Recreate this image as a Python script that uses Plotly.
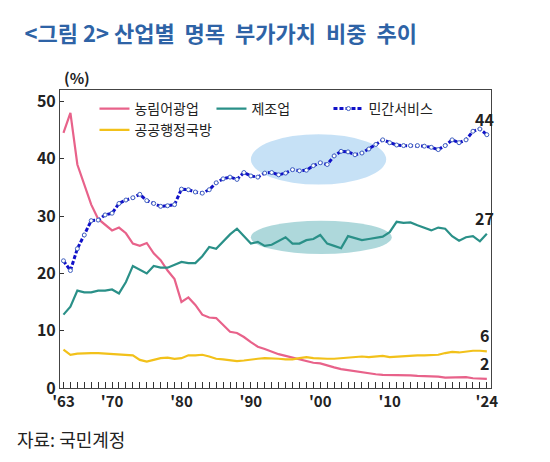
import plotly.graph_objects as go

years = list(range(1963, 2025))

agri = [44.5, 48, 39, 35.5, 32, 29.5, 28.5, 27.5, 28, 27, 25.2, 24.8, 25.3, 23.5, 22.3, 20.5,
        19, 15, 15.8, 14.5, 12.8, 12.3, 12.2, 11, 9.8, 9.6, 8.9, 8, 7.2, 6.8, 6.3, 5.9,
        5.6, 5.3, 5, 4.6, 4.4, 4.3, 3.9, 3.6, 3.3, 3.1, 3, 2.8, 2.6, 2.4, 2.3, 2.3,
        2.3, 2.2, 2.2, 2.1, 2.1, 2.0, 2.0, 1.8, 1.8, 1.9, 1.9, 1.7, 1.6, 1.6]
manuf = [12.8, 14.2, 17, 16.7, 16.7, 17, 17, 17.2, 16.5, 18.5, 21.3, 20.6, 20, 21.3, 21, 21,
         21.5, 22, 21.8, 21.8, 23, 24.6, 24.3, 25.5, 26.8, 27.8, 26.5, 25.2, 25.5, 24.8, 25, 25.7,
         26.3, 25.2, 25.2, 25.8, 26, 26.7, 25.2, 24.8, 24.4, 26.5, 26.2, 25.8, 26, 26.2, 26.4, 27.2,
         29, 28.8, 28.9, 28.4, 27.9, 27.5, 28, 27.8, 26.5, 25.7, 26.3, 26.5, 25.6, 26.9]
services = [22.2, 20.5, 24.3, 26.7, 29.2, 29.3, 30.2, 30.5, 32.2, 32.8, 33.2, 33.8, 32.7, 32.2, 31.7, 31.8,
            32, 34.7, 34.6, 34.2, 34, 34.6, 35.8, 36.5, 36.8, 36.4, 37.6, 37, 36.8, 37.5, 37.6, 37.2,
            37.5, 38.1, 37.9, 38, 38.8, 39.3, 39, 40.5, 41.3, 41.2, 40.7, 41, 41.7, 42.5, 43.3, 42.8,
            42.4, 42.3, 42.3, 42.3, 42.2, 42.0, 41.6, 42.3, 43.3, 42.8, 43.3, 44.8, 45.2, 44.2]
public = [6.7, 5.8, 6.0, 6.1, 6.1, 6.1, 6.0, 5.9, 5.9, 5.8, 5.7, 4.9, 4.6, 4.9, 5.2, 5.3,
          5.1, 5.2, 5.7, 5.7, 5.8, 5.5, 5.1, 5.0, 4.8, 4.7, 4.8, 5.0, 5.1, 5.2, 5.2, 5.1,
          5.0, 5.0, 5.2, 5.4, 5.2, 5.1, 5.1, 5.1, 5.2, 5.3, 5.3, 5.5, 5.4, 5.5, 5.6, 5.4,
          5.5, 5.6, 5.7, 5.7, 5.7, 5.7, 5.8, 6.1, 6.3, 6.2, 6.4, 6.5, 6.5, 6.4]

label_years = {1963: "'63", 1970: "'70", 1980: "'80", 1990: "'90", 2000: "'00", 2010: "'10", 2024: "'24"}
tick_text = ["<b>%s</b>" % label_years[y] if y in label_years else "" for y in years]
y_ticks = [0, 10, 20, 30, 40, 50]

fig = go.Figure()

# highlight ellipses behind the lines
fig.add_shape(type="circle", xref="x", yref="y", x0=1990, x1=2009.5, y0=35.5, y1=44.3,
              fillcolor="rgba(160,205,240,0.6)", line_width=0, layer="below")
fig.add_shape(type="circle", xref="x", yref="y", x0=1990, x1=2010.3, y0=23.4, y1=29.2,
              fillcolor="rgba(120,190,195,0.6)", line_width=0, layer="below")

fig.add_trace(go.Scatter(x=years, y=agri, mode="lines", name="농림어광업",
                         line=dict(color="#E8628A", width=2.2)))
fig.add_trace(go.Scatter(x=years, y=manuf, mode="lines", name="제조업",
                         line=dict(color="#2A9088", width=2.2)))
fig.add_trace(go.Scatter(x=years, y=services, mode="lines+markers", name="민간서비스",
                         line=dict(color="#1010C8", width=3, dash="4px,2px"),
                         marker=dict(size=4, color="white", line=dict(color="#4060C0", width=1))))
fig.add_trace(go.Scatter(x=years, y=public, mode="lines", name="공공행정국방",
                         line=dict(color="#F2C11A", width=2.2)))

for val, txt in [(services[-1], "44"), (manuf[-1], "27"), (public[-1], "6"), (agri[-1], "2")]:
    fig.add_annotation(x=years[-1], y=val, text="<b>%s</b>" % txt, showarrow=False,
                       yshift=16, xshift=-2, font=dict(size=16, color="#222"))

fig.add_annotation(xref="paper", yref="paper", x=0.005, y=1.0, text="<b>(%)</b>",
                   showarrow=False, xanchor="left", yanchor="bottom", font=dict(size=15, color="#222"))
fig.add_annotation(xref="paper", yref="paper", x=-0.105, y=-0.22, text="자료: 국민계정",
                   showarrow=False, xanchor="left", yanchor="bottom", font=dict(size=18, color="#222"))

fig.update_xaxes(range=[1962.5, 2024.6], tickvals=years, ticktext=tick_text, ticks="inside",
                 ticklen=6, tickcolor="#333", showline=True, linecolor="#444", mirror=True,
                 showgrid=False, zeroline=False, tickfont=dict(size=15, color="#222"),
                 tickangle=0)
fig.update_yaxes(range=[0, 52], tickvals=y_ticks, ticktext=["<b>%d</b>" % v for v in y_ticks],
                 ticks="inside", ticklen=4, tickcolor="#333",
                 showline=True, linecolor="#444", mirror=True, showgrid=False, zeroline=False,
                 tickfont=dict(size=16, color="#222"))

fig.update_layout(
    width=550, height=462,
    title=dict(text="<b><그림 2> 산업별  명목  부가가치  비중  추이</b>", x=0.03, y=0.96,
               xanchor="left", font=dict(size=22, color="#2E63A6")),
    font=dict(family="Noto Sans CJK KR, Noto Sans", color="#222"),
    paper_bgcolor="white", plot_bgcolor="white",
    margin=dict(l=52, r=67, t=82, b=82, autoexpand=False),
    showlegend=True,
    legend=dict(orientation="h", x=0.08, y=0.99, xanchor="left", yanchor="top",
                font=dict(size=14, color="#222"), bgcolor="rgba(0,0,0,0)",
                entrywidth=72, entrywidthmode="pixels", itemwidth=30),
)

fig.write_html("out.html")
